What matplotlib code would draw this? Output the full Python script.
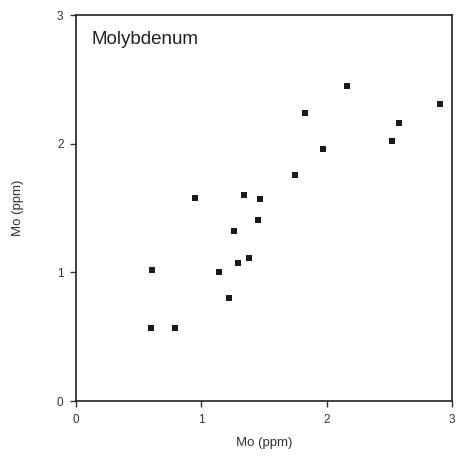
import matplotlib
matplotlib.use("Agg")
import matplotlib.pyplot as plt

plt.rcParams['font.family'] = ['Liberation Sans', 'DejaVu Sans']

# Molybdenum values (ppm)
mo_x = [0.60, 0.79, 0.61, 0.95, 1.14, 1.22, 1.26, 1.29, 1.34, 1.38,
        1.47, 1.45, 1.75, 1.83, 1.97, 2.16, 2.52, 2.58, 2.90]
mo_y = [0.57, 0.57, 1.02, 1.58, 1.00, 0.80, 1.32, 1.07, 1.60, 1.11,
        1.57, 1.41, 1.76, 2.24, 1.96, 2.45, 2.02, 2.16, 2.31]
ticks = [0, 1, 2, 3]

fig = plt.figure(figsize=(4.59, 4.57), dpi=100)
ax = fig.add_axes([0.1656, 0.1225, 0.8194, 0.8445])

ax.scatter(mo_x, mo_y, marker="s", s=14, color="#1a1a1a", linewidths=0)

ax.set_xlim(0, 3)
ax.set_ylim(0, 3)
ax.set_xticks(ticks)
ax.set_yticks(ticks)
ax.tick_params(direction="out", length=4, width=1, labelsize=8.5, colors="#333333",
               pad=5)
for sp in ax.spines.values():
    sp.set_linewidth(1.2)
    sp.set_color("#222222")

ax.set_xlabel("Mo (ppm)", fontsize=9.5, color="#333333", labelpad=8)
ax.set_ylabel("Mo (ppm)", fontsize=9.5, color="#333333", labelpad=24)
ax.text(0.04, 0.96, "Molybdenum", transform=ax.transAxes, fontsize=13.5,
        color="#222222", va="top", ha="left")

fig.savefig("out.png", dpi=100)
